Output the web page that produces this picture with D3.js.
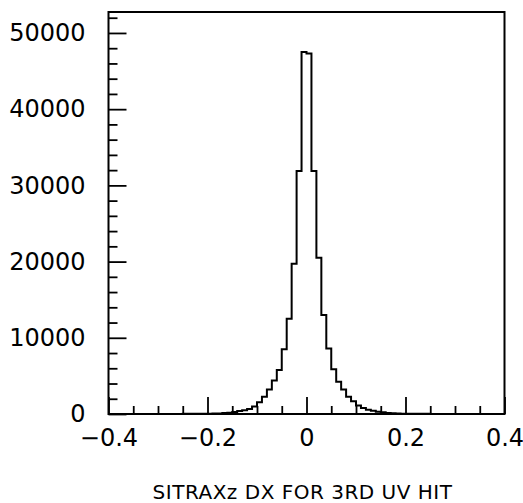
<!DOCTYPE html>
<html>
<head>
<meta charset="utf-8">
<script src="https://cdn.jsdelivr.net/npm/d3@7"></script>
<style>
  html, body { margin: 0; padding: 0; background: #fff; }
  svg { display: block; }
  text { font-family: "DejaVu Sans", Verdana, sans-serif; fill: #000; }
</style>
</head>
<body>
<svg id="chart" width="523" height="503"></svg>
<script>
// Histogram of track residuals: 80 bins of width 0.01 from -0.4 to 0.4
const binStart = -0.4;
const binWidth = 0.01;
const counts = [
  2, 2, 3, 3, 4, 4, 5, 6, 7, 8,
  9, 10, 12, 14, 16, 19, 22, 26, 31, 37,
  42, 55, 80, 120, 180, 270, 380, 480, 650, 1000,
  1550, 2270, 3200, 4400, 5770, 8490, 12500, 19700, 31900, 47500,
  47300, 31900, 20500, 13000, 8600, 5860, 4240, 3200, 2270, 1680,
  1130, 790, 560, 430, 300, 220, 140, 90, 60, 45,
  36, 30, 25, 21, 18, 15, 13, 11, 9, 8,
  7, 6, 5, 4, 4, 3, 3, 2, 2, 2
];

const xMajorTicks = [-0.4, -0.2, 0, 0.2, 0.4];
const xMinorTicks = [-0.35, -0.3, -0.25, -0.15, -0.1, -0.05, 0.05, 0.1, 0.15, 0.25, 0.3, 0.35];
const yMajorTicks = [0, 10000, 20000, 30000, 40000, 50000];
const yMinorTicks = [2000, 4000, 6000, 8000, 12000, 14000, 16000, 18000,
  22000, 24000, 26000, 28000, 32000, 34000, 36000, 38000,
  42000, 44000, 46000, 48000, 52000];
const xTitle = "SITRAXz DX FOR 3RD UV HIT";

const svg = d3.select("#chart");
const plotL = 108.5, plotR = 504.5, plotT = 12, plotB = 414;

const x = d3.scaleLinear().domain([-0.4, 0.4]).range([plotL, plotR]);
const y = d3.scaleLinear().domain([0, 52750]).range([plotB, plotT]);

const fmtX = v => v === 0 ? "0" : d3.format("")(v);

// Bottom axis: long ticks with labels, short ticks without, all pointing inward
const gx = svg.append("g").attr("transform", `translate(0,${plotB})`);
gx.call(d3.axisBottom(x).tickValues(xMajorTicks).tickSize(-17).tickPadding(32).tickFormat(fmtX));
const gxm = svg.append("g").attr("transform", `translate(0,${plotB})`);
gxm.call(d3.axisBottom(x).tickValues(xMinorTicks).tickSize(-8).tickFormat(""));

// Left axis
const gy = svg.append("g").attr("transform", `translate(${plotL},0)`);
gy.call(d3.axisLeft(y).tickValues(yMajorTicks).tickSize(-18).tickPadding(23).tickFormat(d3.format("d")));
const gym = svg.append("g").attr("transform", `translate(${plotL},0)`);
gym.call(d3.axisLeft(y).tickValues(yMinorTicks).tickSize(-9).tickFormat(""));

svg.selectAll(".domain").remove();
svg.selectAll(".tick line").attr("stroke", "#000").attr("stroke-width", 1.8);
svg.selectAll(".tick text").attr("font-family", "DejaVu Sans").attr("font-size", 24);
gx.selectAll(".tick text").attr("dy", "0");

// Histogram outline as a step line
const pts = counts.map((c, i) => [binStart + i * binWidth, c]);
pts.push([binStart + counts.length * binWidth, counts[counts.length - 1]]);
const line = d3.line()
  .x(d => x(d[0]))
  .y(d => y(d[1]))
  .curve(d3.curveStepAfter);
svg.append("path")
  .attr("d", line(pts))
  .attr("fill", "none")
  .attr("stroke", "#000")
  .attr("stroke-width", 2);

// Frame
svg.append("rect")
  .attr("x", plotL).attr("y", plotT)
  .attr("width", plotR - plotL).attr("height", plotB - plotT)
  .attr("fill", "none").attr("stroke", "#000").attr("stroke-width", 2);

// Axis title
svg.append("text")
  .attr("x", 302.5).attr("y", 499)
  .attr("text-anchor", "middle")
  .attr("font-size", 20)
  .attr("letter-spacing", 0.5)
  .text(xTitle);
</script>
</body>
</html>
